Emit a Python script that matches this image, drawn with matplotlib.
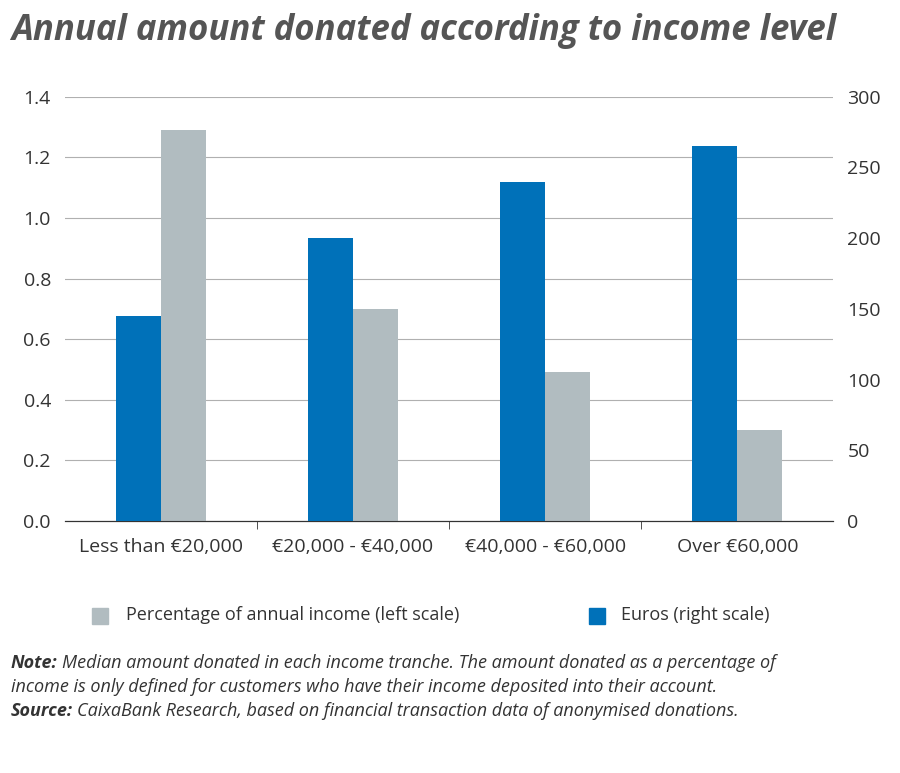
import matplotlib.pyplot as plt
import numpy as np

categories = ["Less than €20,000", "€20,000 - €40,000", "€40,000 - €60,000", "Over €60,000"]
euros = [145, 200, 240, 265]
pct_income = [1.29, 0.70, 0.49, 0.30]

blue = "#0071b9"
grey = "#b1bcc0"
text_col = "#333333"

plt.rcParams["font.family"] = ["Open Sans", "DejaVu Sans"]

fig = plt.figure(figsize=(9, 7.73), dpi=100)
ax = fig.add_axes([0.072, 0.326, 0.854, 0.549])
ax2 = ax.twinx()

x = np.arange(len(categories))
w = 0.234
ax2.bar(x - w / 2, euros, width=w, color=blue, zorder=3)
ax.bar(x + w / 2, pct_income, width=w, color=grey, zorder=3)

ax.set_xlim(-0.5, 3.5)
ax.set_ylim(0, 1.4)
ax2.set_ylim(0, 300)
ax.set_yticks(np.arange(0, 1.41, 0.2))
ax.set_yticklabels([f"{v:.1f}" for v in np.arange(0, 1.41, 0.2)])
ax2.set_yticks(range(0, 301, 50))
ax.grid(axis="y", color="#b0b0b0", lw=0.8, zorder=0)
ax.set_axisbelow(True)

ax.set_xticks(x)
ax.set_xticklabels(categories, fontsize=14, color=text_col)
ax.tick_params(axis="x", length=0, pad=12)
ax.set_xticks([0.5, 1.5, 2.5], minor=True)
ax.tick_params(axis="x", which="minor", length=6, color="#333333")
for a in (ax, ax2):
    for s in ("top", "left", "right"):
        a.spines[s].set_visible(False)
    a.spines["bottom"].set_color("#333333")
    a.tick_params(axis="y", length=0, labelsize=14, colors=text_col, pad=10)
ax2.set_zorder(ax.get_zorder() + 1)
ax2.patch.set_visible(False)

fig.text(0.012, 0.96, "Annual amount donated according to income level", fontsize=25,
         fontweight="bold", style="italic", color="#555555", va="center")

# legend
fig.patches.append(plt.Rectangle((0.102, 0.193), 0.018, 0.021, color=grey, transform=fig.transFigure))
fig.text(0.14, 0.204, "Percentage of annual income (left scale)", fontsize=13, color=text_col, va="center")
fig.patches.append(plt.Rectangle((0.654, 0.193), 0.018, 0.021, color=blue, transform=fig.transFigure))
fig.text(0.69, 0.204, "Euros (right scale)", fontsize=13, color=text_col, va="center")

# notes: bold-italic label followed by italic text
renderer = fig.canvas.get_renderer()
def note(y, label, body):
    x0 = 0.012
    if label:
        t = fig.text(x0, y, label, fontsize=13, style="italic", fontweight="bold", color=text_col, va="center")
        x0 += t.get_window_extent(renderer).width / fig.bbox.width + 0.005
    fig.text(x0, y, body, fontsize=13, style="italic", color=text_col, va="center")

note(0.142, "Note:", "Median amount donated in each income tranche. The amount donated as a percentage of")
note(0.111, "", "income is only defined for customers who have their income deposited into their account.")
note(0.080, "Source:", "CaixaBank Research, based on financial transaction data of anonymised donations.")

fig.savefig("out.png")
